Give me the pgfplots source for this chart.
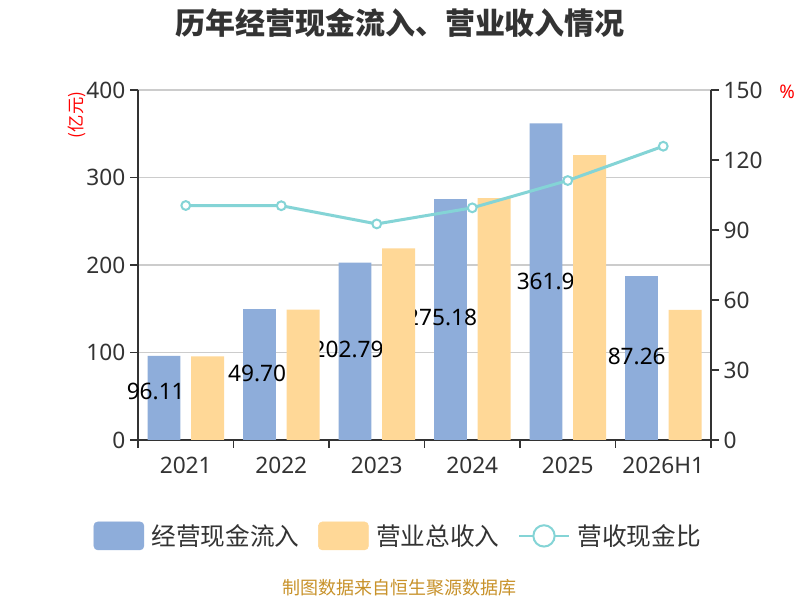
\documentclass[border=0pt]{standalone}
\usepackage{pgfplots}
\usepackage{pgfplotstable}
\pgfplotsset{compat=1.18}
\usepackage{fontspec}
\setmainfont{Noto Sans CJK SC}
\newfontfamily\numfont{Noto Sans}
\definecolor{bluec}{HTML}{8EADDA}
\definecolor{orangec}{HTML}{FFD897}
\definecolor{tealc}{HTML}{84D4D6}
\definecolor{txt}{HTML}{333333}
\definecolor{gridc}{HTML}{CCCCCC}
\definecolor{footc}{HTML}{C8922A}

\pgfplotstableread{
x blue orange ratio
0 96.11 95.6 100.5
1 149.70 149.1 100.4
2 202.79 219.0 92.6
3 275.18 276.5 99.5
4 361.9 325.5 111.2
5 187.26 148.7 125.9
}\data

\pgfplotstableread{
x ym lab dx
-0.228 55.2 96.11 -28.1
0.772 76.2 149.70 -33.4
1.772 103.7 202.79 -31.9
2.772 140.2 275.18 -33.4
3.772 180.9 361.9 -22.1
4.772 95.2 187.26 -35.2
}\labs

\pgfplotsset{
  base/.style={
    at={(103.5pt,120pt)}, anchor=south west,
    scale only axis, width=429.75pt, height=262.5pt,
    xmin=-0.5, xmax=5.5,
    axis line style={txt, line width=1.2pt},
    tick align=outside,
    major tick length=6pt,
    tick style={txt, line width=1.2pt},
    /pgf/number format/assume math mode=true,
    ticklabel style={font=\numfont\fontsize{17}{20}\selectfont, text=txt},
  }
}

\begin{document}
\begin{tikzpicture}
\path[use as bounding box, fill=white] (0pt,0pt) rectangle (600pt,450pt);

% axis 1: left axis, grid, blue bars, labels
\begin{axis}[base,
  clip=false,
  ymin=0, ymax=400,
  axis x line*=bottom, axis y line*=left,
  xtick={-0.5,0.5,...,5.5},
  xticklabels={,,,,,,},
  extra x ticks={0,1,2,3,4,5},
  extra x tick labels={2021,2022,2023,2024,2025,2026H1},
  extra x tick style={major tick length=0pt, xticklabel style={yshift=-9pt}},
  ytick={0,100,200,300,400},
  ymajorgrids,
  grid style={gridc, line width=0.8pt},
]
\addplot[ybar, bar width=0.345, bar shift=-0.228, fill=bluec, draw=none]
  table[x=x, y=blue] {\data};
\addplot[draw=none, nodes near coords, point meta=explicit symbolic,
  visualization depends on={\thisrow{dx} \as \dx},
  every node near coord/.append style={anchor=west, xshift=\dx pt, inner sep=0pt,
    font=\numfont\fontsize{17}{20}\selectfont, text=black}]
  table[x=x, y=ym, meta=lab] {\labs};
\end{axis}

% axis 2: orange bars, on top of labels
\begin{axis}[base,
  ymin=0, ymax=400,
  axis x line=none, axis y line=none,
]
\addplot[ybar, bar width=0.345, bar shift=0.228, fill=orangec, draw=none]
  table[x=x, y=orange] {\data};
\end{axis}

% axis 3: right axis, ratio line, legend
\begin{axis}[base,
  ymin=0, ymax=150,
  axis x line=none, axis y line*=right,
  ytick={0,30,60,90,120,150},
  legend style={at={(0.4546,-0.274)}, anchor=center, draw=none, fill=none,
    legend columns=3, font=\fontsize{18.5}{20}\selectfont, text=txt,
    /tikz/every odd column/.append style={column sep=3.5pt},
    /tikz/every even column/.append style={column sep=12pt}},
]
\addlegendimage{legend image code/.code={\fill[bluec, rounded corners=3pt] (0pt,-10.5pt) rectangle (37.5pt,10.5pt);}}
\addlegendentry{经营现金流入}
\addlegendimage{legend image code/.code={\fill[orangec, rounded corners=3pt] (0pt,-10.5pt) rectangle (37.5pt,10.5pt);}}
\addlegendentry{营业总收入}
\addplot[tealc, line width=2.25pt, mark=*, mark size=3.3pt,
  mark options={fill=white, draw=tealc, line width=1.5pt},
  legend image code/.code={\draw[tealc, line width=1.5pt] (0pt,0pt) -- (37.5pt,0pt); \draw[tealc, line width=1.5pt, fill=white] (18.75pt,0pt) circle (8pt);}]
  table[x=x, y=ratio] {\data};
\addlegendentry{营收现金比}
\end{axis}

\node[font=\bfseries\fontsize{22.5}{26}\selectfont, text=txt] at (300pt,432.75pt) {历年经营现金流入、营业收入情况};
\node[font=\fontsize{13.5}{15}\selectfont, text=footc] at (299.25pt,9pt) {制图数据来自恒生聚源数据库};
\node[font=\fontsize{13}{14}\selectfont, text=red, rotate=90] at (57.75pt,363.75pt) {(亿元)};
\node[font=\numfont\fontsize{14}{15}\selectfont, text=red] at (590.25pt,381pt) {\%};
\end{tikzpicture}
\end{document}
